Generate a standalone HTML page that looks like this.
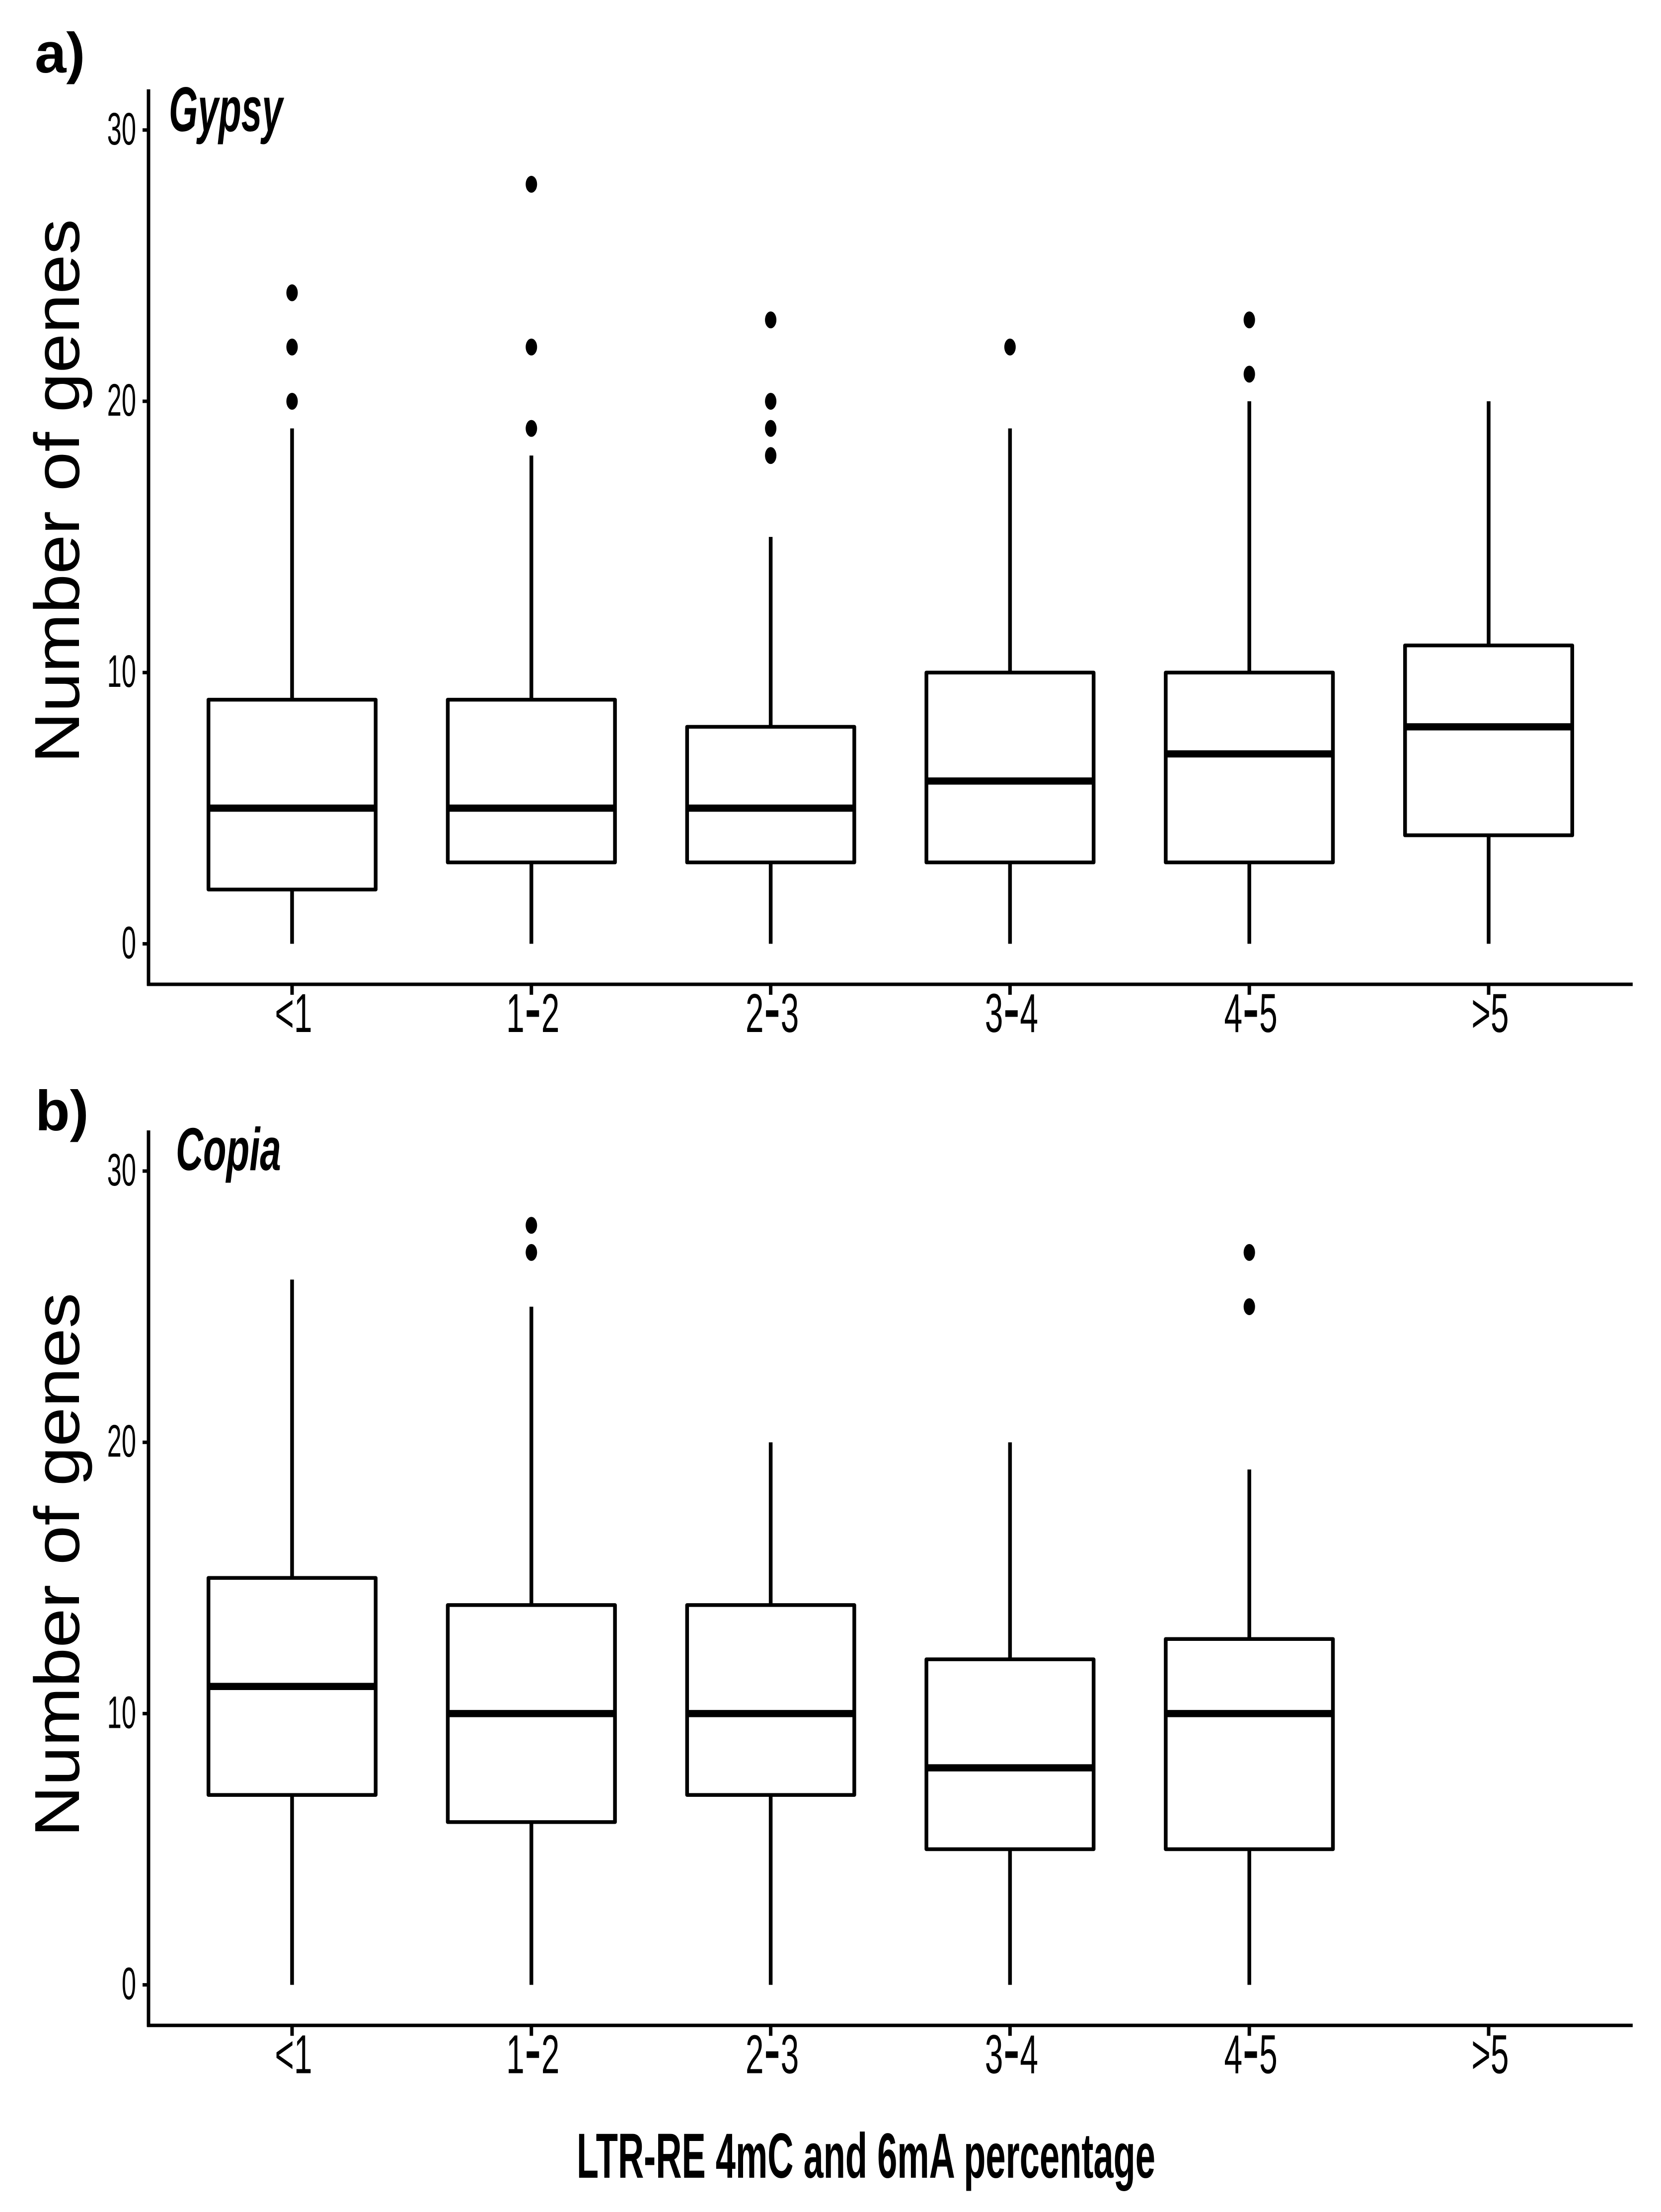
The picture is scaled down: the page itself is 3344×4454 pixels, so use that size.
<!DOCTYPE html>
<html lang="en">
<head>
<meta charset="utf-8">
<title>Number of genes by LTR-RE 4mC and 6mA percentage</title>
<style>
html,body{margin:0;padding:0;background:#fff;}
svg{display:block;}
text{font-family:"Liberation Sans",sans-serif;fill:#000;}
</style>
</head>
<body>
<svg id="chart" xmlns="http://www.w3.org/2000/svg" width="3344" height="4454" viewBox="0 0 3344 4454">
  <rect x="0" y="0" width="3344" height="4454" fill="#fff"/>
  <text x="70" y="146" font-size="114" font-weight="bold">a)</text>
  <text x="71" y="2276" font-size="114" font-weight="bold">b)</text>
  <text transform="translate(340,264) scale(0.59,1)" font-size="127" font-weight="bold" font-style="italic">Gypsy</text>
  <text transform="translate(354,2356) scale(0.625,1)" font-size="122" font-weight="bold" font-style="italic">Copia</text>
  <text transform="translate(159,1537) rotate(-90)" font-size="128" textLength="1096" lengthAdjust="spacingAndGlyphs">Number of genes</text>
  <text transform="translate(159,3699) rotate(-90)" font-size="128" textLength="1096" lengthAdjust="spacingAndGlyphs">Number of genes</text>
  <text x="1161" y="4385" font-size="128" font-weight="bold" textLength="1165" lengthAdjust="spacingAndGlyphs">LTR-RE 4mC and 6mA percentage</text>
  <g id="panel-a"></g>
  <g id="panel-b"></g>
</svg>
<script>
const categories = ['<1', '1-2', '2-3', '3-4', '4-5', '>5'];
const yTickValues = [0, 10, 20, 30];

const gypsyQ1 = [2, 3, 3, 3, 3, 4];
const gypsyMedian = [5, 5, 5, 6, 7, 8];
const gypsyQ3 = [9, 9, 8, 10, 10, 11];
const gypsyWhiskerLow = [0, 0, 0, 0, 0, 0];
const gypsyWhiskerHigh = [19, 18, 15, 19, 20, 20];
const gypsyOutliers = [[20, 22, 24], [19, 22, 28], [18, 19, 20, 23], [22], [21, 23], []];

const copiaQ1 = [7, 6, 7, 5, 5, null];
const copiaMedian = [11, 10, 10, 8, 10, null];
const copiaQ3 = [15, 14, 14, 12, 12.75, null];
const copiaWhiskerLow = [0, 0, 0, 0, 0, null];
const copiaWhiskerHigh = [26, 25, 20, 20, 19, null];
const copiaOutliers = [[], [27, 28], [], [], [25, 27], []];

const SVG_NS = 'http://www.w3.org/2000/svg';

function xScale(i) { return 588 + i * 481.8; }
function yScaleFor(zeroY) { return function (v) { return zeroY - v * 54.62; }; }

function make(parent, tag, attrs) {
  const node = document.createElementNS(SVG_NS, tag);
  Object.keys(attrs).forEach(function (k) { node.setAttribute(k, attrs[k]); });
  parent.appendChild(node);
  return node;
}

function drawPanel(panelId, zeroY, prefix, q1, med, q3, low, high, outliers) {
  const root = document.getElementById(panelId);
  const y = yScaleFor(zeroY);
  const axisBottom = y(-1.495);
  const axisTop = y(31.5);
  const boxHalf = 168.3;

  yTickValues.forEach(function (v) {
    const tick = make(root, 'line', { x1: 287, x2: 299, y1: y(v), y2: y(v), stroke: '#000', 'stroke-width': 7 });
    
    
    const label = make(root, 'text', { transform: 'translate(274,' + (y(v) + 29) + ') scale(0.57,1)', 'text-anchor': 'end', 'font-size': 92 });
    label.textContent = String(v);
    
    
  });

  categories.forEach(function (cat, i) {
    const cx = xScale(i);
    const tick = make(root, 'line', { x1: cx, x2: cx, y1: axisBottom, y2: axisBottom + 21, stroke: '#000', 'stroke-width': 7 });
    
    
    const label = make(root, 'text', { transform: 'translate(' + (cx + 3) + ',' + (axisBottom + 96) + ') scale(0.6,1)', 'text-anchor': 'middle', 'font-size': 110 });
    const parts = cat.split('-');
    if (parts.length === 2) {
      label.appendChild(document.createTextNode(parts[0]));
      const dash = make(label, 'tspan', { 'font-size': 170, dy: 8 });
      dash.textContent = '-';
      
      
      const tail = make(label, 'tspan', { dy: -8 });
      tail.textContent = parts[1];
      
      
    } else {
      label.textContent = cat;
    }
    
    

    if (med[i] !== null) {
      const lowW = make(root, 'line', { x1: cx, x2: cx, y1: y(low[i]), y2: y(q1[i]), stroke: '#000', 'stroke-width': 7.5 });
      
      
      const highW = make(root, 'line', { x1: cx, x2: cx, y1: y(q3[i]), y2: y(high[i]), stroke: '#000', 'stroke-width': 7.5 });
      
      
      const box = make(root, 'rect', { x: cx - boxHalf, y: y(q3[i]), width: boxHalf * 2, height: y(q1[i]) - y(q3[i]), fill: '#fff', stroke: '#000', 'stroke-width': 7.5, 'stroke-linejoin': 'round' });
      
      
      const median = make(root, 'line', { x1: cx - boxHalf, x2: cx + boxHalf, y1: y(med[i]), y2: y(med[i]), stroke: '#000', 'stroke-width': 14.5 });
      
      
    }

    outliers[i].forEach(function (v) {
      const dot = make(root, 'ellipse', { cx: cx, cy: y(v), rx: 11.5, ry: 17, fill: '#000' });
      
      
    });
  });

  const yAxis = make(root, 'line', { x1: 299, x2: 299, y1: axisTop, y2: axisBottom + 3, stroke: '#000', 'stroke-width': 7 });
  
  
  const xAxis = make(root, 'line', { x1: 296, x2: 3287, y1: axisBottom, y2: axisBottom, stroke: '#000', 'stroke-width': 7 });
  
  
}

drawPanel('panel-a', 1900.4, 'gypsy', gypsyQ1, gypsyMedian, gypsyQ3, gypsyWhiskerLow, gypsyWhiskerHigh, gypsyOutliers);
drawPanel('panel-b', 3996.6, 'copia', copiaQ1, copiaMedian, copiaQ3, copiaWhiskerLow, copiaWhiskerHigh, copiaOutliers);
</script>
</body>
</html>
